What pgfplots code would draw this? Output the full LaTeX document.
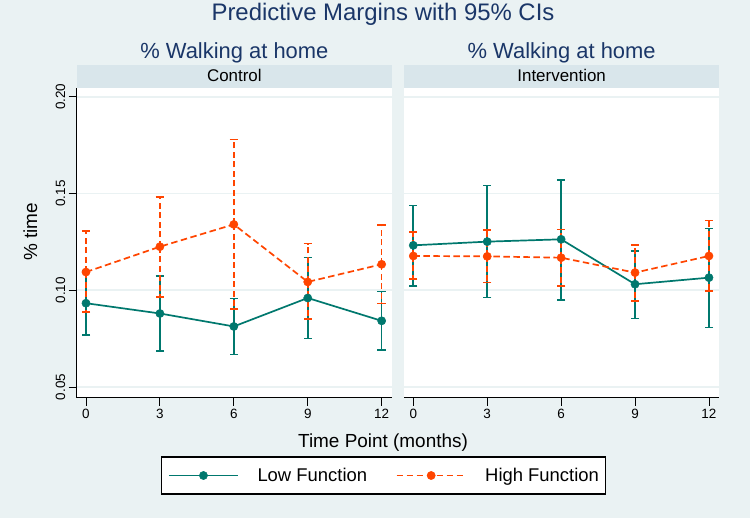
\documentclass[border=0pt]{standalone}
\usepackage{fontspec}
\setmainfont{Liberation Sans}
\usepackage{pgfplots}
\pgfplotsset{compat=1.18}
\usepackage{pgfplotstable}
\definecolor{bgcol}{RGB}{234,242,243}
\definecolor{stripcol}{RGB}{217,230,235}
\definecolor{lowcol}{RGB}{0,120,110}
\definecolor{highcol}{RGB}{255,69,0}
\definecolor{titcol}{RGB}{26,54,104}

\pgfplotstableread{
x y lo hi
0 0.0933 0.0768 0.1098
3 0.0880 0.0687 0.1074
6 0.0813 0.0669 0.0957
9 0.0960 0.0751 0.1170
12 0.0842 0.0691 0.0993
}\ctrllow
\pgfplotstableread{
x y lo hi
0 0.1094 0.0888 0.1306
3 0.1225 0.0966 0.1481
6 0.1340 0.0902 0.1778
9 0.1043 0.0851 0.1241
12 0.1134 0.0931 0.1337
}\ctrlhigh
\pgfplotstableread{
x y lo hi
0 0.1232 0.1022 0.1438
3 0.1251 0.0962 0.1541
6 0.1263 0.0950 0.1569
9 0.1031 0.0854 0.1203
12 0.1065 0.0808 0.1318
}\intlow
\pgfplotstableread{
x y lo hi
0 0.1177 0.1057 0.1301
3 0.1175 0.1040 0.1311
6 0.1168 0.1022 0.1314
9 0.1091 0.0943 0.1234
12 0.1177 0.0996 0.1361
}\inthigh

\pgfplotsset{
  panel/.style={
    scale only axis, width=315.3bp, height=309.4bp,
    xmin=-0.377, xmax=12.42, ymin=0.0445, ymax=0.2043,
    xtick={0,3,6,9,12}, ytick={0.05,0.10,0.15,0.20},
    axis x line=bottom, axis y line=left,
    axis line style={-, black, line width=0.9bp},
    tick align=outside, major tick length=8bp,
    tick style={black, line width=0.9bp},
    ymajorgrids, grid style={draw=bgcol, line width=1.8bp},
    axis background/.style={fill=white},
    /pgf/number format/assume math mode=true,
    ticklabel style={font=\fontsize{13.5}{15}\selectfont},
    yticklabel style={rotate=90, anchor=south,
      /pgf/number format/.cd, fixed, fixed zerofill, precision=2},
    legend image code/.code={\draw[mark repeat=2,mark phase=2,##1, line width=1.7bp] plot coordinates {(0bp,0bp) (34.5bp,0bp) (69bp,0bp)};},
  },
  lowplot/.style={lowcol, line width=1.7bp, mark=*, mark size=4.1bp,
    mark options={solid, fill=lowcol, draw=lowcol, line width=0.5bp},
    error bars/.cd, y dir=both, y explicit,
    error bar style={line width=1.6bp, solid, lowcol},
    error mark options={rotate=90, mark size=4.2bp, line width=1.6bp, lowcol, solid}},
  highplot/.style={highcol, line width=1.7bp, dash pattern=on 6.5bp off 3.5bp, mark=*, mark size=4.1bp,
    mark options={solid, fill=highcol, draw=highcol, line width=0.5bp},
    error bars/.cd, y dir=both, y explicit,
    error bar style={line width=1.6bp, highcol, dash pattern=on 6bp off 3.5bp},
    error mark options={rotate=90, mark size=4.2bp, line width=1.6bp, highcol, solid}},
}

\begin{document}
\begin{tikzpicture}
\useasboundingbox (0bp,0bp) rectangle (750bp,522bp);
\fill[bgcol] (0bp,4bp) rectangle (750bp,522bp);

\begin{axis}[panel, at={(76.7bp,124.3bp)}, anchor=south west,
  legend columns=2,
  legend style={at={(0.9731,-0.2515)}, anchor=center, draw=black, line width=1.1bp, fill=white,
    inner xsep=7bp, inner ysep=9.75bp,
    font=\fontsize{18.5}{22}\selectfont,
    nodes={inner sep=0pt, text height=14.5bp, text depth=3bp},
    /tikz/every odd column/.append style={column sep=18.7bp},
    /tikz/every even column/.append style={column sep=28.7bp}},
  legend cell align=left]
\addplot[lowplot] table[x=x, y=y, y error plus expr=\thisrow{hi}-\thisrow{y}, y error minus expr=\thisrow{y}-\thisrow{lo}] {\ctrllow};
\addlegendentry{Low Function}
\addplot[highplot] table[x=x, y=y, y error plus expr=\thisrow{hi}-\thisrow{y}, y error minus expr=\thisrow{y}-\thisrow{lo}] {\ctrlhigh};
\addlegendentry{High Function}
\end{axis}

\begin{axis}[panel, at={(404bp,124.3bp)}, anchor=south west,
  y axis line style={draw=none}, ytick style={draw=none}, yticklabels={}]
\addplot[lowplot] table[x=x, y=y, y error plus expr=\thisrow{hi}-\thisrow{y}, y error minus expr=\thisrow{y}-\thisrow{lo}] {\intlow};
\addplot[highplot] table[x=x, y=y, y error plus expr=\thisrow{hi}-\thisrow{y}, y error minus expr=\thisrow{y}-\thisrow{lo}] {\inthigh};
\end{axis}

% strips
\fill[stripcol] (76.7bp,433.7bp) rectangle (392bp,457bp);
\fill[stripcol] (404bp,433.7bp) rectangle (719.3bp,457bp);
\node[anchor=base, font=\fontsize{17}{20}\selectfont] at (234.35bp,440.3bp) {Control};
\node[anchor=base, font=\fontsize{17}{20}\selectfont] at (561.65bp,440.3bp) {Intervention};

\node[anchor=base, text=titcol, font=\fontsize{22}{26}\selectfont] at (234.35bp,463.7bp) {\% Walking at home};
\node[anchor=base, text=titcol, font=\fontsize{22}{26}\selectfont] at (561.65bp,463.7bp) {\% Walking at home};
\node[anchor=base, text=titcol, font=\fontsize{24}{28}\selectfont] at (383bp,501.3bp) {Predictive Margins with 95\% CIs};

\node[anchor=base, font=\fontsize{19}{22}\selectfont] at (383bp,74.7bp) {Time Point (months)};
\node[anchor=base, rotate=90, font=\fontsize{19}{22}\selectfont] at (37bp,290bp) {\% time};
\end{tikzpicture}
\end{document}
